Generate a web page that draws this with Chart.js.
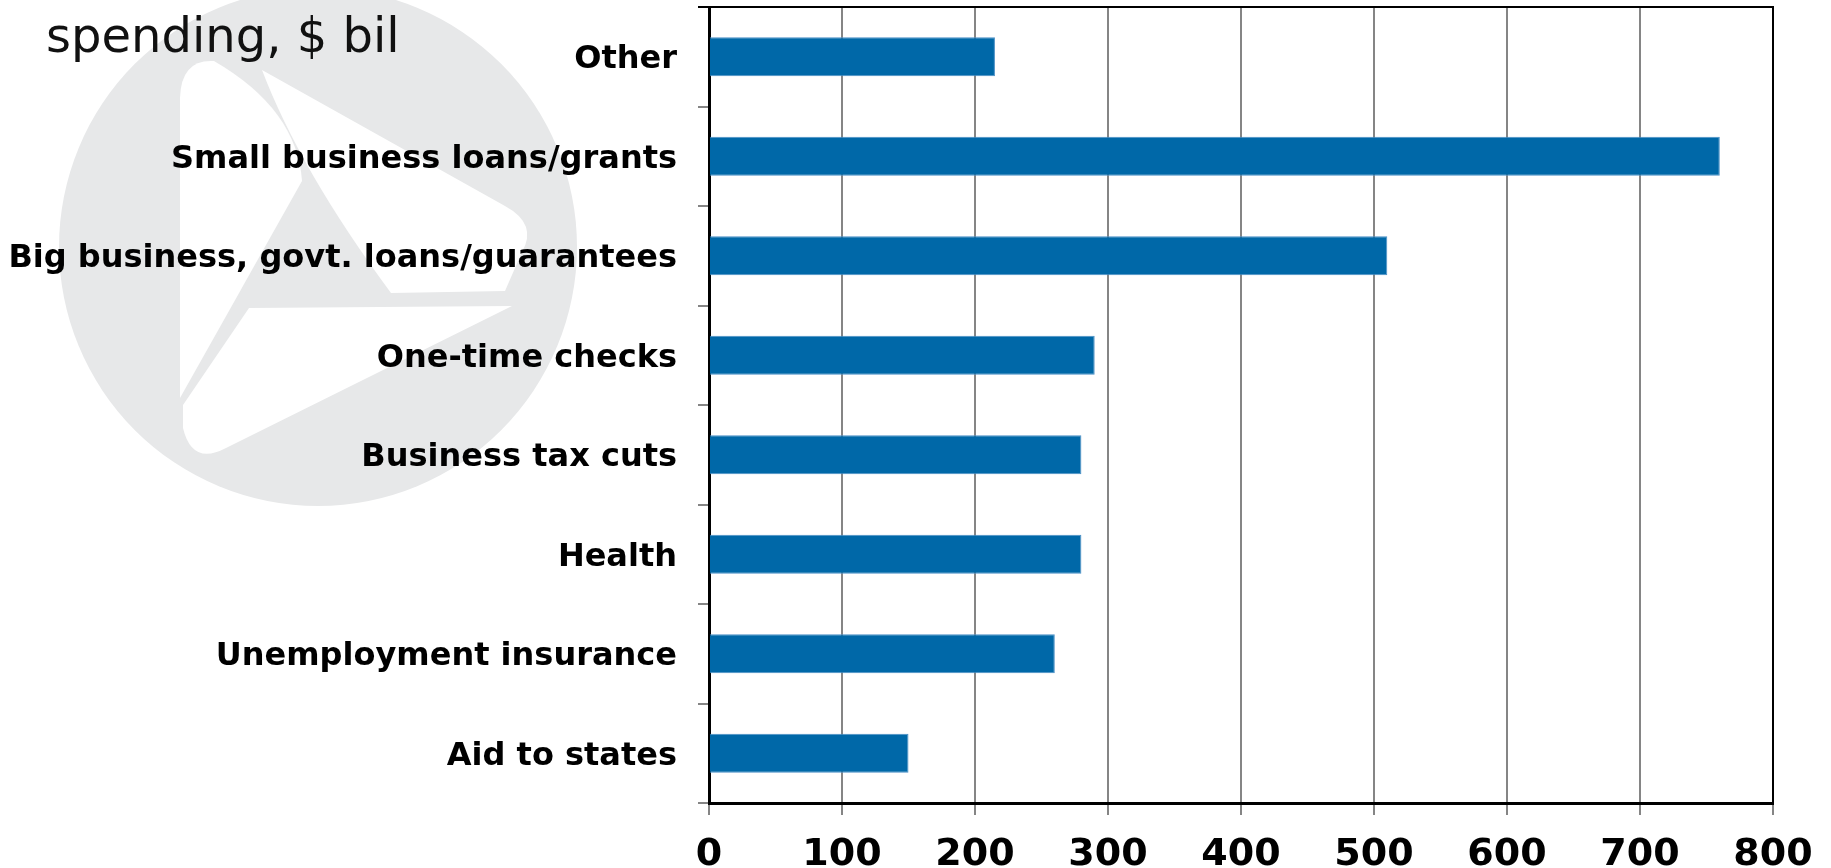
<!DOCTYPE html>
<html>
<head>
<meta charset="utf-8">
<title>Spending, $ bil</title>
<script src="https://cdn.jsdelivr.net/npm/chart.js@4.4.1/dist/chart.umd.min.js"></script>
<style>
    html, body { margin: 0; padding: 0; background: #fff; }
    #wrap { position: relative; width: 1831px; height: 868px; }
    #chartTitle {
        position: absolute; left: 46px; top: 11px;
        font: 48px/48px "DejaVu Sans", sans-serif;
        color: #111; white-space: nowrap;
    }
</style>
</head>
<body>
<div id="wrap">
    <canvas id="spendingChart"></canvas>
    <div id="chartTitle">spending, $ bil</div>
</div>
<script>
// categories, top to bottom
const categories = [
    'Other',
    'Small business loans/grants',
    'Big business, govt. loans/guarantees',
    'One-time checks',
    'Business tax cuts',
    'Health',
    'Unemployment insurance',
    'Aid to states'
];
// spending, $ bil
const spending = [215, 760, 510, 290, 280, 280, 260, 150];
// x axis ticks
const xTicks = [0, 100, 200, 300, 400, 500, 600, 700, 800];

const labelFont = { family: '"DejaVu Sans", sans-serif', weight: 'bold', size: 32 };
const tickFont = { family: '"DejaVu Sans", sans-serif', weight: 'bold', size: 38 };
const gridGray = '#858585';

// faint logo behind the labels
const logoMark = {
    id: 'logoMark',
    beforeDraw(chart) {
        const ctx = chart.ctx;
        ctx.save();
        ctx.fillStyle = '#e7e8e9';
        ctx.beginPath();
        ctx.arc(318, 247, 259, 0, Math.PI * 2);
        ctx.fill();

        ctx.fillStyle = '#ffffff';
        // left sliver
        ctx.beginPath();
        ctx.moveTo(180, 398);
        ctx.lineTo(180, 98);
        ctx.quadraticCurveTo(181, 59, 214, 61);
        ctx.quadraticCurveTo(297, 109, 302, 181);
        ctx.closePath();
        ctx.fill();
        // upper wing
        ctx.beginPath();
        ctx.moveTo(262, 70);
        ctx.lineTo(505, 206);
        ctx.quadraticCurveTo(538, 224, 522, 252);
        ctx.lineTo(505, 291);
        ctx.lineTo(391, 293);
        ctx.quadraticCurveTo(300, 170, 262, 70);
        ctx.closePath();
        ctx.fill();
        // lower wing
        ctx.beginPath();
        ctx.moveTo(249, 308);
        ctx.lineTo(512, 306);
        ctx.lineTo(226, 448);
        ctx.quadraticCurveTo(192, 466, 183, 428);
        ctx.lineTo(183, 405);
        ctx.closePath();
        ctx.fill();
        ctx.restore();
    },
    afterDraw(chart) {
        // closing line along the top of the plot
        const { ctx, chartArea } = chart;
        ctx.save();
        ctx.strokeStyle = '#000';
        ctx.lineWidth = 2;
        ctx.beginPath();
        ctx.moveTo(chartArea.left - 11, chartArea.top);
        ctx.lineTo(chartArea.right + 1, chartArea.top);
        ctx.stroke();
        ctx.restore();
    }
};

new Chart(document.getElementById('spendingChart'), {
    type: 'bar',
    data: {
        labels: categories,
        datasets: [{
            data: spending,
            backgroundColor: '#0068a8',
            borderColor: '#4a8fc6',
            borderWidth: 1,
            barPercentage: 0.392,
            categoryPercentage: 1
        }]
    },
    options: {
        indexAxis: 'y',
        responsive: true,
        maintainAspectRatio: false,
        animation: false,
        layout: { padding: { top: 7, right: 58, bottom: 0, left: 0 } },
        plugins: {
            legend: { display: false },
            tooltip: { enabled: false }
        },
        scales: {
            x: {
                type: 'linear',
                position: 'bottom',
                min: xTicks[0],
                max: xTicks[xTicks.length - 1],
                afterBuildTicks: function(scale) {
                    scale.ticks = xTicks.map(v => ({ value: v }));
                },
                afterFit: function(scale) {
                    scale.height = 65;
                    scale.paddingLeft = 0;
                    scale.paddingRight = 0;
                },
                grid: {
                    color: ctx => (ctx.tick && ctx.tick.value === 800) ? '#000' : gridGray,
                    tickColor: gridGray,
                    lineWidth: 2,
                    tickLength: 12
                },
                border: { color: '#000', width: 3 },
                ticks: {
                    font: tickFont,
                    color: '#000',
                    padding: 17,
                    maxRotation: 0
                }
            },
            y: {
                type: 'category',
                afterFit: function(scale) {
                    scale.width = 709;
                    scale.paddingTop = 0;
                    scale.paddingBottom = 0;
                },
                grid: {
                    offset: true,
                    drawOnChartArea: false,
                    color: gridGray,
                    lineWidth: 2,
                    tickLength: 11
                },
                border: { color: '#000', width: 3 },
                ticks: {
                    font: labelFont,
                    color: '#000',
                    padding: 21,
                    labelOffset: 3
                }
            }
        }
    },
    plugins: [logoMark]
});
</script>
</body>
</html>
